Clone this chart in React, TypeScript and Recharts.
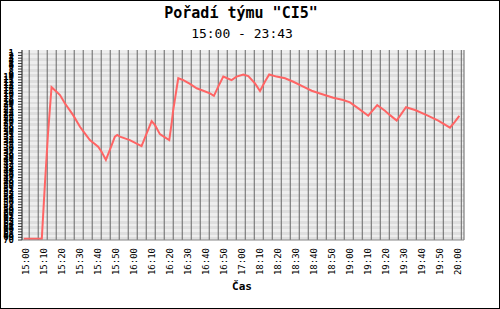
import React from 'react';
import { LineChart, Line, XAxis, YAxis, CartesianGrid } from 'recharts';

// Position on the time axis in minutes after 15:00 (the 17:00–18:10 gap is collapsed, as on the original axis)
const minutes = [
  -3, 7, 8.7, 10.4, 12.4, 15.2, 17.1, 19.8, 24.4, 28.2,
  30.9, 33.7, 38.3, 40.2, 42.6, 44.8, 47.6, 48.9, 50.4, 55.9,
  62.4, 68, 69.8, 72.6, 75.4, 77.8, 79.1, 80, 80.9, 81.9,
  82.8, 85.6, 89.3, 93, 96.7, 100.4, 102.6, 105, 107.8, 110,
  112.4, 115.2, 118.9, 121.7, 125.4, 128.2, 130.9, 133.3, 137.4, 142.1,
  146.7, 152.2, 156.9, 161.5, 168.9, 174.4, 178.2, 182.8, 188.3, 193.3,
  197.6, 200.4, 204.1, 209.3, 214.3, 220.8, 227.2, 233.7, 236.5, 238.9,
];

// Team rank (1 = best, shown at the top)
const ranks = [
  69.5, 69.5, 49.7, 31.3, 13.7, 15.4, 16.6, 19.6, 24.0, 28.3,
  30.7, 33.2, 35.6, 37.5, 40.5, 36.8, 31.9, 31.3, 31.9, 33.2,
  35.4, 26.2, 27.6, 31.0, 32.2, 33.2, 27.0, 22.1, 18.4, 14.1,
  10.4, 11.1, 12.5, 14.1, 15.0, 16.0, 16.9, 13.5, 9.8, 10.4,
  11.1, 9.8, 9.0, 9.6, 12.3, 15.1, 11.7, 9.0, 9.8, 10.4,
  11.7, 13.5, 15.0, 16.0, 17.6, 18.4, 19.3, 21.5, 24.2, 20.3,
  22.4, 24.0, 26.0, 21.1, 22.1, 24.0, 26.0, 28.6, 26.4, 24.3,
];

const xTickLabels = [
  '15:00', '15:10', '15:20', '15:30', '15:40', '15:50', '16:00', '16:10', '16:20',
  '16:30', '16:40', '16:50', '17:00', '18:10', '18:20', '18:30', '18:40', '18:50',
  '19:00', '19:10', '19:20', '19:30', '19:40', '19:50', '20:00',
];

const gridTicks = Array.from({ length: xTickLabels.length * 2 - 1 }, (_, i) => i * 5);
const rankTicks = Array.from({ length: 70 }, (_, i) => i + 1);

const data = minutes.map((m, i) => ({ m, rank: ranks[i] }));

const MONO = "'DejaVu Sans Mono', monospace";

const XTick = (props: any) => {
  const { x, y, payload } = props;
  const v = payload.value;
  if (v % 10 !== 0) return null;
  const label = xTickLabels[v / 10];
  return (
    <text
      x={x}
      y={y}
      transform={`rotate(-90 ${x} ${y})`}
      textAnchor="end"
      fontFamily={MONO}
      fontSize={9}
      fill="#000"
    >
      {label}
    </text>
  );
};

export default function App() {
  return (
    <div style={{ position: 'absolute', left: 0, top: 0, width: 500, height: 309, background: '#fff' }}>
      <LineChart
        width={500}
        height={309}
        data={data}
        margin={{ top: 50, right: 36, bottom: 0, left: 0 }}
      >
        <CartesianGrid
          yAxisId="l"
          vertical={false}
          stroke="transparent"
          horizontalFill={['#eeeeee', '#dedede']}
          fillOpacity={1}
        />
        <CartesianGrid yAxisId="l" horizontal={false} stroke="#666666" />
        <XAxis
          dataKey="m"
          type="number"
          domain={[-4, 241.5]}
          allowDataOverflow
          ticks={gridTicks}
          interval={0}
          tick={<XTick />}
          tickLine={false}
          tickSize={0}
          tickMargin={8}
          height={69}
          axisLine={{ stroke: '#888888' }}
        />
        <YAxis
          yAxisId="l"
          type="number"
          domain={[0, 70]}
          reversed
          ticks={rankTicks}
          interval={0}
          width={22}
          tickSize={4}
          tickMargin={4}
          tickLine={{ stroke: '#333333' }}
          axisLine={{ stroke: '#555555' }}
          tick={{ fontSize: 9, fill: '#000', fontFamily: MONO, fontWeight: 'bold' }}
        />
        <YAxis
          yAxisId="r"
          orientation="right"
          width={0}
          tick={false}
          tickLine={false}
          axisLine={{ stroke: '#777777' }}
        />
        <Line
          yAxisId="l"
          type="linear"
          dataKey="rank"
          stroke="#ff6464"
          strokeWidth={2}
          dot={false}
          isAnimationActive={false}
        />
      </LineChart>
      <svg width={500} height={309} style={{ position: 'absolute', left: 0, top: 0, pointerEvents: 'none' }}>
        <text x={241} y={18} textAnchor="middle" fontFamily={MONO} fontWeight="bold" fontSize={15} fill="#000">
          Pořadí týmu "CI5"
        </text>
        <text x={242} y={37.5} textAnchor="middle" fontFamily={MONO} fontSize={13} fill="#000">
          15:00 - 23:43
        </text>
        <text x={242} y={290} textAnchor="middle" fontFamily={MONO} fontWeight="bold" fontSize={11} fill="#000">
          Čas
        </text>
        <rect x={0.5} y={0.5} width={499} height={308} fill="none" stroke="#000" strokeWidth={1} />
      </svg>
    </div>
  );
}
